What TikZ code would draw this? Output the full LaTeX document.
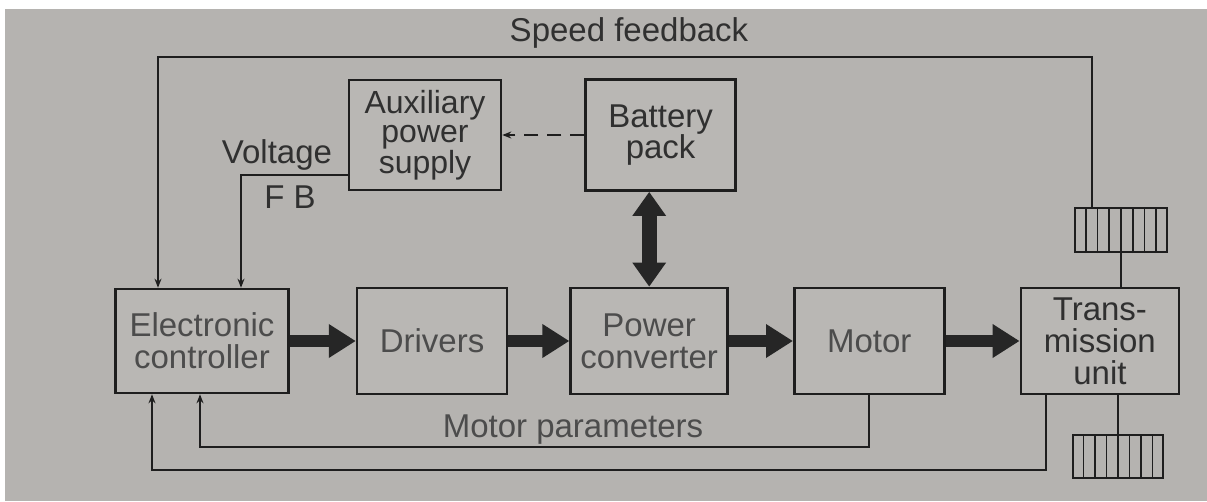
\documentclass[tikz,border=0pt]{standalone}
\usepackage{xcolor}
\usepackage{fontspec}
\setmainfont{Liberation Sans}
\usepackage{tikz}
\usetikzlibrary{
  arrows.meta,
  positioning,
  calc
}
\definecolor{evPaper}{HTML}{B5B3B0}
\definecolor{evFill}{HTML}{B9B7B4}
\definecolor{evLine}{HTML}{1E1E1E}
\definecolor{evArrow}{HTML}{262626}
\definecolor{evText}{HTML}{303030}
\definecolor{evSoft}{HTML}{4C4C4C}
\tikzset{
  evnode/.style={
    draw=evLine, line width=2.6pt, fill=evFill, minimum width=150pt, minimum height=106pt,
    align=center, text=evText, font=\fontsize{33}{32}\selectfont
  },
  evsoft/.style={evnode, text=evSoft},
  wheel/.style={draw=evLine, line width=2pt, minimum width=92pt, minimum height=44pt, inner sep=0pt},
  stripe/.style={line width=1.6pt, evLine},
  power/.style={-{Triangle[length=27pt,width=32pt]}, line width=12pt, evArrow},
  power2/.style={{Triangle[length=24pt,width=32pt]}-{Triangle[length=24pt,width=32pt]}, line width=15pt, evArrow},
  sig/.style={-{Stealth[length=9pt,width=7pt]}, line width=1.8pt, evLine},
  link/.style={line width=1.8pt, evLine},
  tag/.style={font=\fontsize{33}{32}\selectfont, text=evText, inner sep=0pt}
}

\begin{document}
\begin{tikzpicture}[x=1pt, y=-1pt, node distance=66pt]
  \useasboundingbox (0,0) rectangle (1207,501);
  \fill[white] (0,0) rectangle (1207,501);
  \fill[evPaper] (5,9) rectangle (1207,501);

  \node[evsoft, minimum width=173pt, minimum height=104pt] (ctrl) at (202,341) {Electronic\\controller};
  \node[evsoft, right=66pt of ctrl] (drv) {Drivers};
  \node[evsoft, minimum width=157pt, right=61pt of drv] (conv) {Power\\converter};
  \node[evsoft, right=64pt of conv] (motor) {Motor};
  \node[evnode, minimum width=158pt, right=74pt of motor] (trans) {Trans-\\mission\\unit};

  \node[evnode, minimum width=152pt, minimum height=110pt, font=\fontsize{32}{29.5}\selectfont] (aux) at (425,135) {Auxiliary\\power\\supply};
  \node[evnode, minimum width=150pt, minimum height=111pt, font=\fontsize{33}{30}\selectfont, right=82pt of aux] (batt) {Battery\\pack};

  \node[wheel] (whlup) at (1121,230) {};
  \node[wheel, minimum width=90pt, minimum height=43pt] (whllo) at (1118,456) {};
  \foreach \w in {whlup, whllo}
    \foreach \k in {1,...,7}
      \draw[stripe] ($(\w.south west)!\k/8!(\w.south east)$) -- ($(\w.north west)!\k/8!(\w.north east)$);

  \draw[power] (ctrl) -- (drv);
  \draw[power] (drv) -- (conv);
  \draw[power] (conv) -- (motor);
  \draw[power] (motor) -- (trans);
  \draw[power2] (conv.north) -- (conv.north |- batt.south);

  \draw[sig, dashed, dash pattern=on 14pt off 9pt] (batt.west) -- (aux.east);
  \draw[sig] ([yshift=-40pt]aux.west) -| ([xshift=39pt]ctrl.north);
  \node[tag] (volt) at (277,155) {Voltage};
  \node[tag] (fb) at (290,197) {F B};

  \coordinate (sftop) at (0,57);
  \coordinate (sfb) at ([xshift=-29pt]whlup.north);
  \draw[sig] (sfb) -- (sfb |- sftop) -| ([xshift=-44pt]ctrl.north);
  \node[tag] (speed) at (629,33) {Speed feedback};

  \draw[link] (whlup.south) -- (whlup.south |- trans.north);
  \draw[link] (trans.south -| whllo.north) -- (whllo.north);

  \coordinate (mpbot) at (0,447);
  \draw[sig] (motor.south) -- (motor.south |- mpbot) -| ([xshift=-2pt]ctrl.south);
  \node[tag, text=evSoft] (mpar) at (573,430) {Motor parameters};

  \coordinate (trbot) at (0,470);
  \draw[sig] ([xshift=-54pt]trans.south) -- ([xshift=-54pt]trans.south |- trbot) -| ([xshift=-50pt]ctrl.south);
\end{tikzpicture}
\end{document}
